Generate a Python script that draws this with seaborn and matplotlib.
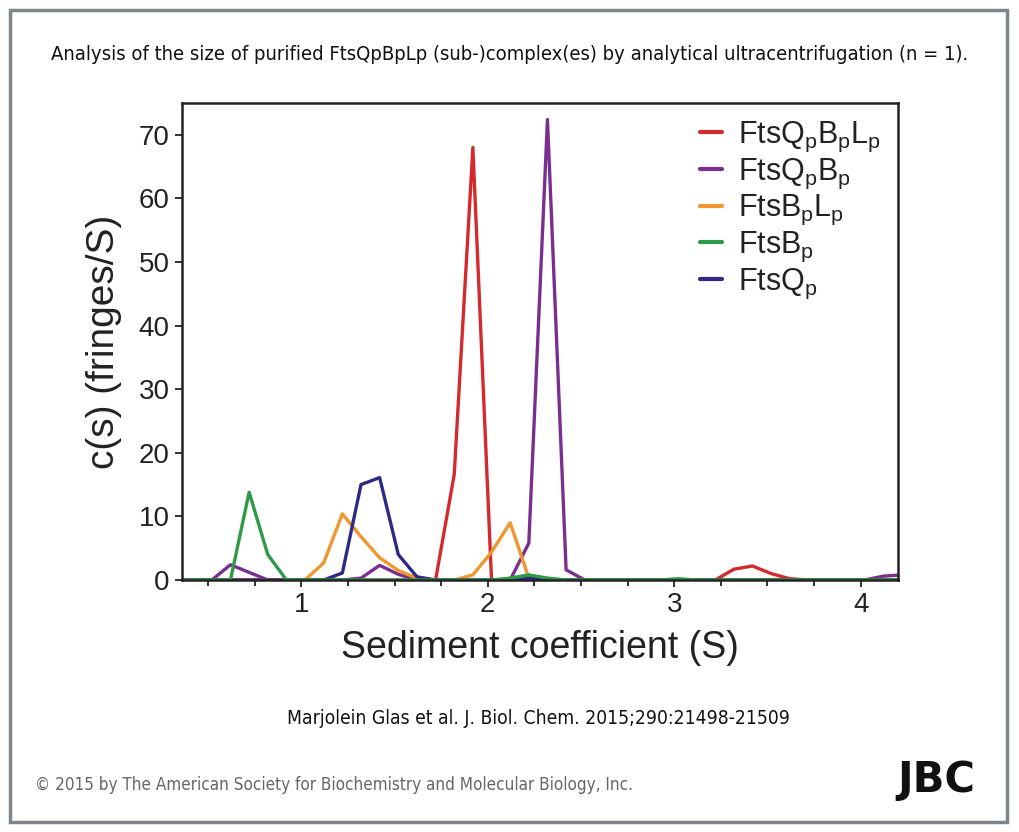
import numpy as np
import pandas as pd
import matplotlib
matplotlib.use("Agg")
import matplotlib.pyplot as plt
import seaborn as sns
from matplotlib import font_manager
from matplotlib.patches import Rectangle
from matplotlib.ticker import MultipleLocator

# ---------------- data ----------------
sediment = [0.32, 0.42, 0.52, 0.62, 0.72, 0.82, 0.92, 1.02, 1.12, 1.22,
            1.32, 1.42, 1.52, 1.62, 1.72, 1.82, 1.92, 2.02, 2.12, 2.22,
            2.32, 2.42, 2.52, 2.62, 2.72, 2.82, 2.92, 3.02, 3.12, 3.22,
            3.32, 3.42, 3.52, 3.62, 3.72, 3.82, 3.92, 4.02, 4.12, 4.22]

fts_qbl = [0, 0, 0, 0, 0, 0, 0, 0, 0, 0,
           0, 0, 0, 0, 0, 16.6, 68.0, 0, 0, 0,
           0, 0, 0, 0, 0, 0, 0, 0, 0, 0,
           1.7, 2.2, 1.0, 0.2, 0, 0, 0, 0, 0, 0]
fts_qb = [0, 0, 0, 2.4, 1.2, 0, 0, 0, 0, 0,
          0.3, 2.3, 0.9, 0, 0, 0, 0, 0, 0, 5.8,
          72.4, 1.6, 0, 0, 0, 0, 0, 0, 0, 0,
          0, 0, 0, 0, 0, 0, 0, 0, 0.6, 0.8]
fts_bl = [0, 0, 0, 0, 0, 0, 0, 0, 2.7, 10.4,
          6.8, 3.5, 1.5, 0.3, 0, 0, 0.8, 4.4, 9.0, 0.3,
          0, 0, 0, 0, 0, 0, 0, 0, 0, 0,
          0, 0, 0, 0, 0, 0, 0, 0, 0, 0]
fts_b = [0, 0, 0, 0, 13.8, 4.0, 0, 0, 0, 0,
         0, 0, 0, 0, 0, 0, 0, 0, 0.3, 0.8,
         0.3, 0, 0, 0, 0, 0, 0, 0.2, 0, 0,
         0, 0, 0, 0, 0, 0, 0, 0, 0, 0]
fts_q = [0, 0, 0, 0, 0, 0, 0, 0, 0, 1.1,
         15.0, 16.1, 4.0, 0.5, 0, 0, 0, 0, 0, 0.3,
         0, 0, 0, 0, 0, 0, 0, 0, 0, 0,
         0, 0, 0, 0, 0, 0, 0, 0, 0, 0]

labels = ["FtsQ$_\\mathregular{p}$B$_\\mathregular{p}$L$_\\mathregular{p}$",
          "FtsQ$_\\mathregular{p}$B$_\\mathregular{p}$",
          "FtsB$_\\mathregular{p}$L$_\\mathregular{p}$",
          "FtsB$_\\mathregular{p}$",
          "FtsQ$_\\mathregular{p}$"]
colors = ["#d42a2e", "#7a2f8f", "#f0962e", "#2e9a45", "#2c2a86"]
x_ticks = [1, 2, 3, 4]
y_ticks = [0, 10, 20, 30, 40, 50, 60, 70]

title = "Analysis of the size of purified FtsQpBpLp (sub-)complex(es) by analytical ultracentrifugation (n = 1)."
citation = "Marjolein Glas et al. J. Biol. Chem. 2015;290:21498-21509"
copyright_txt = "© 2015 by The American Society for Biochemistry and Molecular Biology, Inc."

# ---------------- fonts ----------------
sns.set_theme(style="ticks")
plt.rcParams["font.family"] = ["Liberation Sans", "DejaVu Sans"]
plt.rcParams["mathtext.fontset"] = "custom"
plt.rcParams["mathtext.rm"] = "Liberation Sans"

cands = []
for f in font_manager.fontManager.ttflist:
    nm = f.name.lower()
    fn = f.fname.lower()
    is_cond = ("narrow" in nm or "condensed" in nm or "condensed" in str(f.stretch)
               or "condensed" in fn or "narrow" in fn)
    if not is_cond:
        continue
    if f.style != "normal":
        continue
    if "oblique" in fn or "italic" in fn or "bold" in fn:
        continue
    if "mono" in nm or ("serif" in nm and "sans" not in nm):
        continue
    rank = 0 if "liberation" in nm else (1 if "dejavu" in nm else 2)
    cands.append((rank, f.fname))
cands.sort()
cond_fp = cands[0][1] if cands else None


def fp(size):
    if cond_fp:
        return font_manager.FontProperties(fname=cond_fp, size=size)
    return font_manager.FontProperties(family="Roboto", size=size)


# ---------------- figure ----------------
fig = plt.figure(figsize=(10.19, 8.32), dpi=100)
fig.patch.set_facecolor("white")
fig.add_artist(Rectangle((10 / 1019, 10 / 832), 997 / 1019, 812 / 832,
                         transform=fig.transFigure, fill=False,
                         edgecolor="#7d848a", linewidth=2.5))

ax = fig.add_axes([182 / 1019, 1 - 580 / 832, (898 - 182) / 1019, (580 - 103) / 832])

df = pd.DataFrame({"s": sediment, labels[0]: fts_qbl, labels[1]: fts_qb,
                   labels[2]: fts_bl, labels[4]: fts_q, labels[3]: fts_b})
draw_order = [0, 1, 2, 4, 3]
handles = {}
for i in draw_order:
    sns.lineplot(data=df, x="s", y=labels[i], color=colors[i], linewidth=2.4,
                 ax=ax, label=labels[i])
    handles[i] = ax.lines[-1]

ax.set_xlim(0.36, 4.2)
ax.set_ylim(0, 75)
ax.set_xticks(x_ticks)
ax.set_xticklabels([str(t) for t in x_ticks])
ax.xaxis.set_minor_locator(MultipleLocator(0.25))
ax.set_yticks(y_ticks)
ax.tick_params(axis="both", which="major", labelsize=20, length=5, width=1.3,
               direction="out", color="#222222", pad=4)
ax.tick_params(axis="x", which="minor", length=4, width=1.3, color="#222222")
for sp in ax.spines.values():
    sp.set_visible(True)
    sp.set_color("#222222")
    sp.set_linewidth(1.8)

ax.set_xlabel("Sediment coefficient (S)", fontsize=27, labelpad=8, color="#222222")
ax.set_ylabel("c(s) (fringes/S)", fontsize=28, labelpad=12, color="#222222")
for t in ax.get_xticklabels() + ax.get_yticklabels():
    t.set_color("#222222")

leg = ax.legend([handles[i] for i in range(5)], labels, loc="upper right",
                frameon=False, fontsize=22, handlelength=0.7, handletextpad=0.55,
                labelspacing=0.08, borderaxespad=0.15, bbox_to_anchor=(1.0, 1.0))
for h in leg.legend_handles:
    h.set_linewidth(3)
for t in leg.get_texts():
    t.set_color("#222222")

t_title = fig.text(0.5, 1 - 55 / 832, title, ha="center", va="center",
                   color="#111111", fontproperties=fp(17))
t_cite = fig.text(538 / 1019, 1 - 718 / 832, citation, ha="center", va="center",
                  color="#111111", fontproperties=fp(17))
t_copy = fig.text(35 / 1019, 1 - 785 / 832, copyright_txt, ha="left", va="center",
                  color="#666666", fontproperties=fp(15))
t_jbc = fig.text(936 / 1019, 1 - 780 / 832, "JBC", ha="center", va="center",
                 fontsize=30, fontweight="bold", family="DejaVu Sans",
                 color="#111111")

# fit text widths to the reference widths (pixels)
renderer = fig.canvas.get_renderer()
for txt, target in [(t_title, 915), (t_cite, 502), (t_copy, 597), (t_jbc, 78)]:
    w = txt.get_window_extent(renderer).width
    txt.set_fontsize(txt.get_fontsize() * target / w)

fig.savefig("out.png", dpi=100, facecolor="white")
